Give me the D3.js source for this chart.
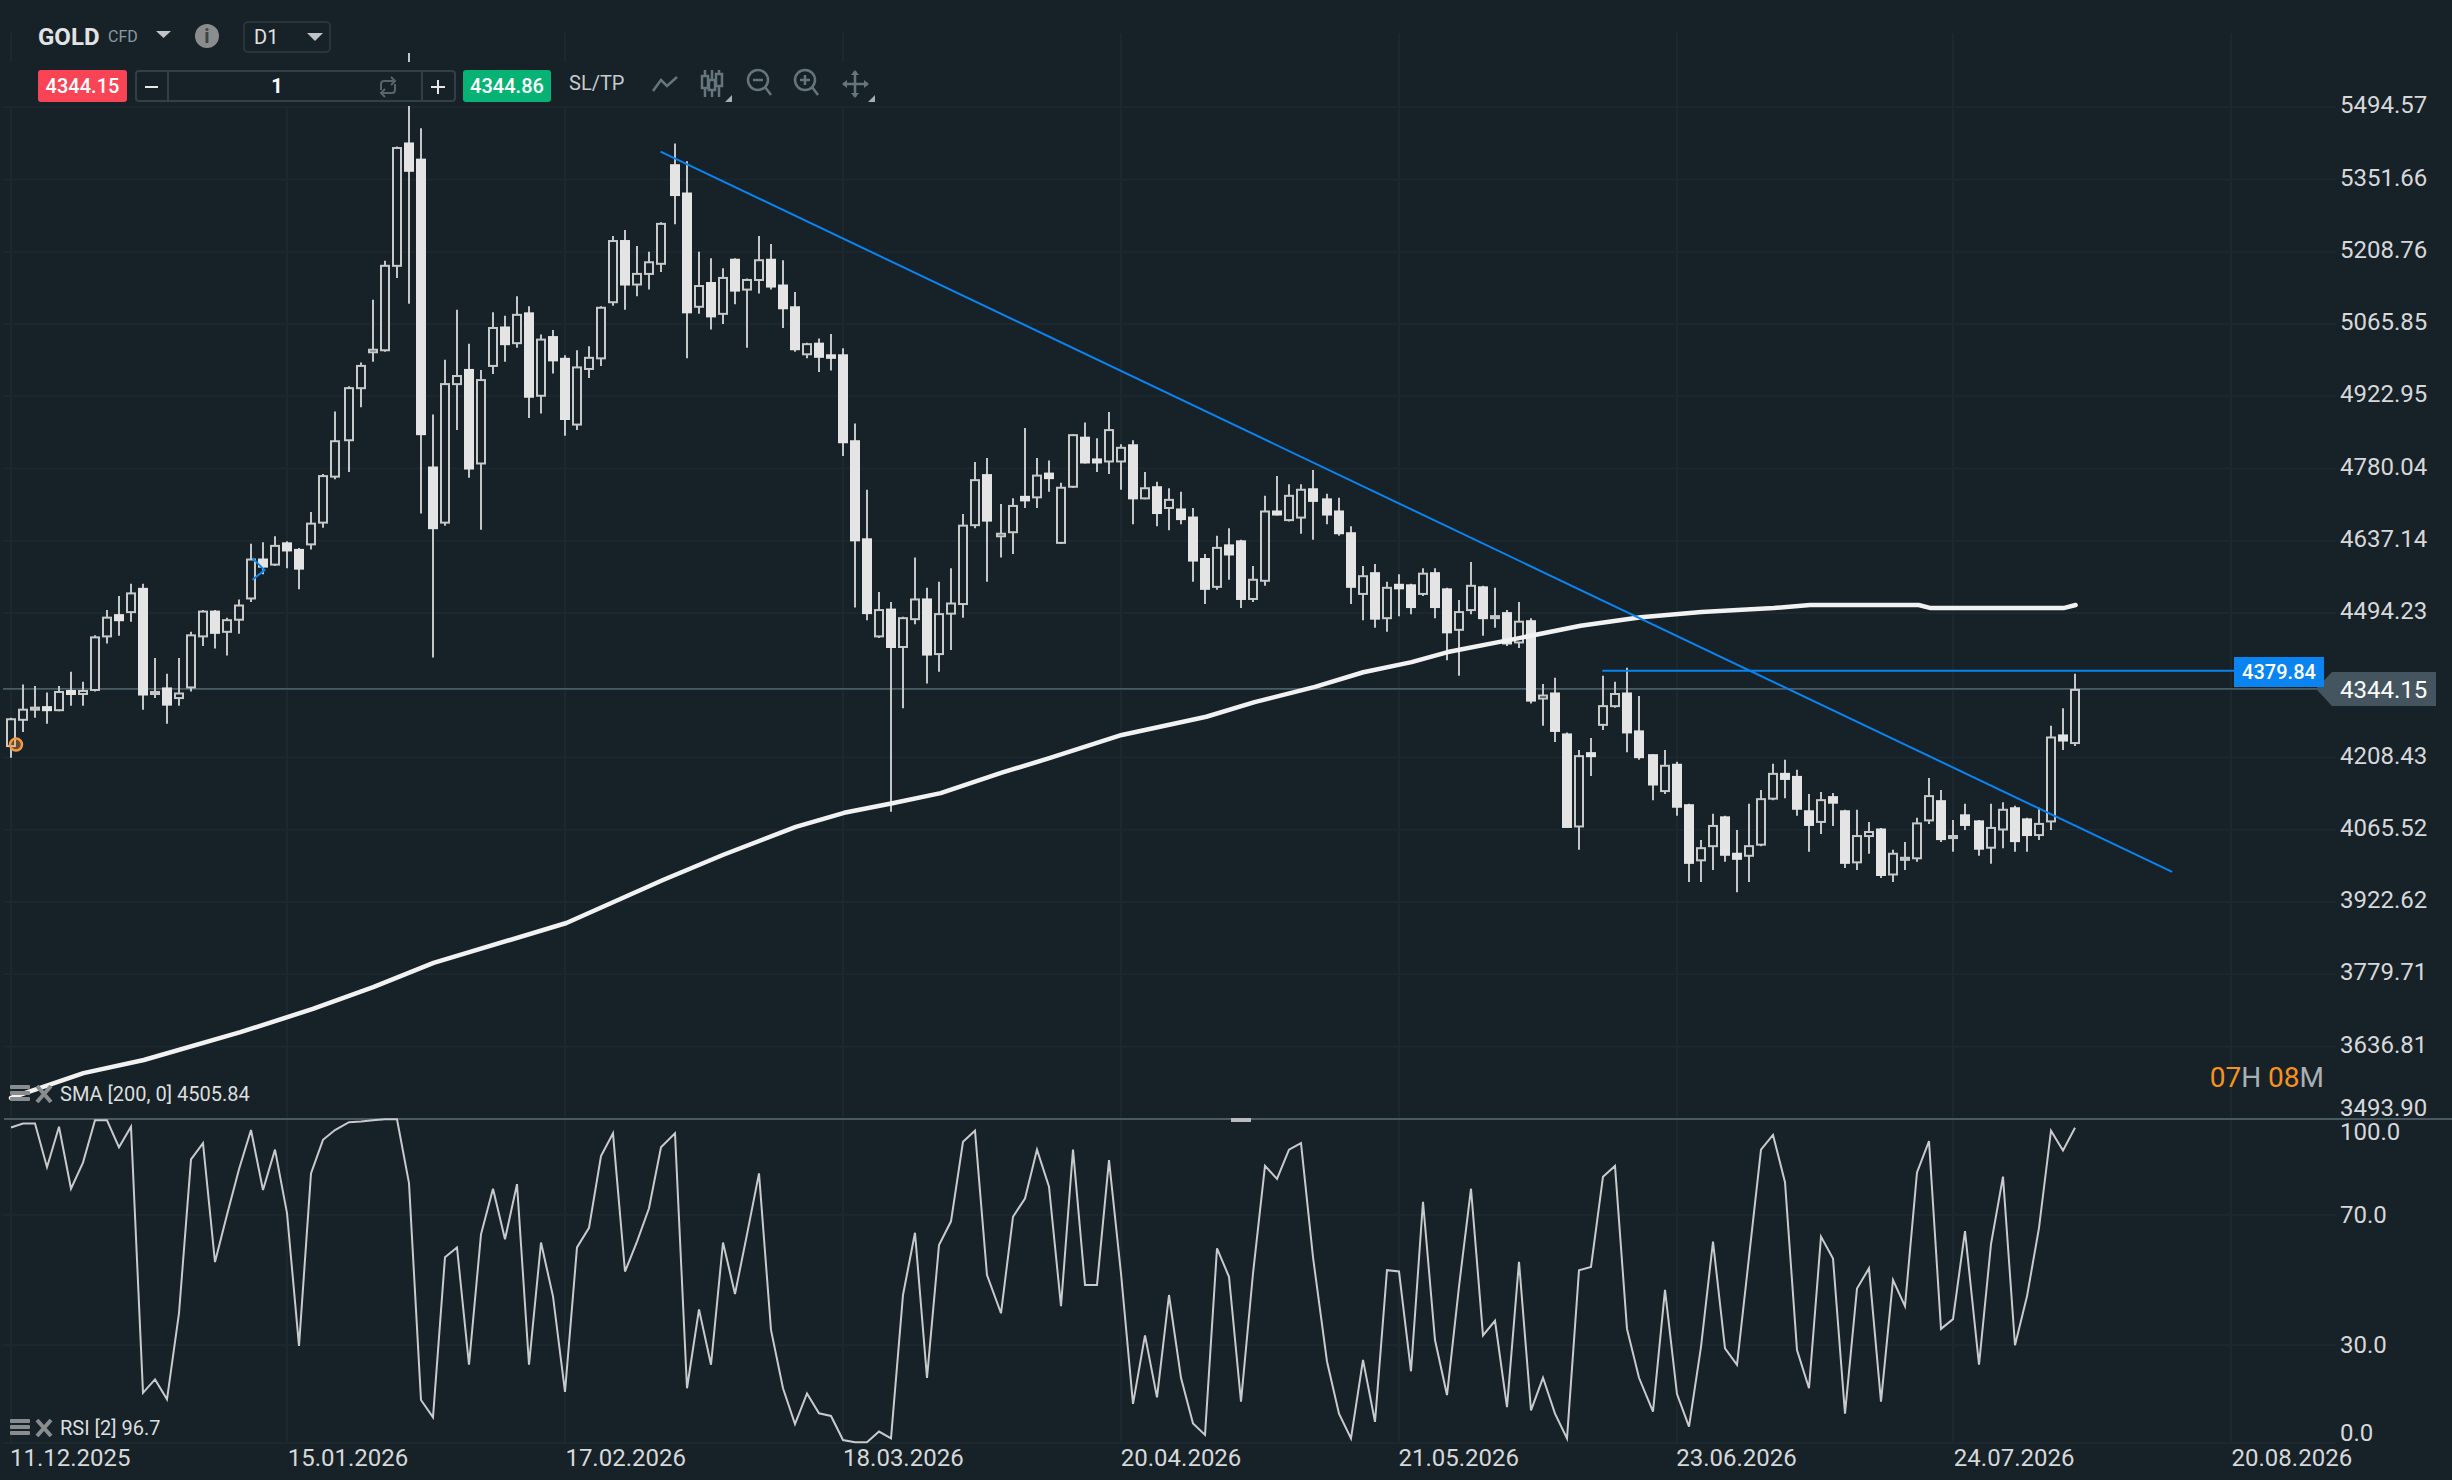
<!DOCTYPE html>
<html>
<head>
<meta charset="utf-8">
<title>GOLD D1</title>
<script src="https://cdn.jsdelivr.net/npm/d3@7"></script>
<style>
  html, body { margin: 0; padding: 0; background: #172128; }
  text { font-family: Roboto, sans-serif; }
</style>
</head>
<body>
<div id="container"></div>
<script>
// daily candles
var opens = [
  4229,4281,4301,4310,4300,4342,4332,4340,4446,4492,4494,4544,4332,4347,4324,4345,4446,4499,4455,4479,4521,4602,4588,4634,4621,4628,4671,4762,4834,4937,5008,5012,5179,5425,5393,4784,4671,4945,4977,4788,4981,5061,5026,
  5089,4922,5042,4999,4865,4975,4996,5107,5232,5142,5163,5183,5382,5326,5098,5149,5084,5195,5132,5151,5195,5144,5101,5004,5029,5006,5006,4836,4642,4446,4503,4425,4480,4523,4411,4491,4510,4666,4769,4644,4652,4726,4721,
  4772,4631,4742,4843,4800,4792,4792,4828,4719,4745,4700,4701,4685,4603,4544,4630,4638,4520,4556,4697,4676,4681,4741,4721,4697,4654,4530,4575,4482,4552,4551,4530,4575,4543,4459,4498,4547,4482,4496,4434,4480,4323,4337,
  4256,4070,4219,4271,4308,4337,4262,4215,4140,4196,4116,4003,4031,4092,4020,4012,4034,4125,4178,4172,4104,4079,4132,4104,3999,4051,4068,3975,4004,4007,4082,4124,4047,4096,4084,4028,4064,4110,4088,4053,4080,4254,4235
];
var highs = [
  4287,4353,4350,4337,4350,4378,4358,4450,4500,4528,4552,4552,4405,4374,4405,4457,4500,4500,4485,4521,4631,4634,4646,4636,4623,4694,4769,4893,4943,4990,5114,5191,5417,5602,5453,4887,4995,5094,5027,4975,5089,5082,5121,
  5101,5045,5054,5004,5014,5022,5101,5240,5252,5220,5209,5267,5423,5388,5209,5196,5176,5196,5156,5240,5224,5192,5129,5029,5037,5046,5018,4869,4738,4536,4516,4487,4604,4544,4556,4583,4690,4793,4801,4710,4721,4860,4801,
  4796,4752,4848,4871,4840,4892,4828,4836,4773,4754,4741,4734,4702,4611,4647,4662,4639,4587,4726,4765,4749,4749,4777,4730,4722,4666,4587,4591,4556,4571,4552,4583,4583,4544,4520,4595,4548,4544,4500,4516,4484,4354,4366,
  4258,4223,4247,4370,4358,4386,4330,4215,4223,4200,4117,4045,4097,4093,4065,4117,4144,4196,4204,4184,4136,4140,4138,4105,4105,4081,4069,4026,4041,4089,4168,4144,4085,4117,4085,4117,4120,4113,4089,4109,4271,4306,4374
];
var lows = [
  4208,4259,4287,4275,4300,4311,4311,4339,4434,4449,4477,4303,4326,4275,4311,4339,4429,4424,4410,4453,4516,4571,4587,4583,4541,4620,4663,4759,4773,4901,4991,5011,5157,5106,4691,4406,4667,4856,4762,4659,4967,4991,5019,
  4880,4889,4968,4845,4856,4959,4983,5102,5094,5121,5134,5169,5263,4998,5086,5055,5066,5105,5019,5126,5134,5058,5011,4998,4971,4974,4805,4505,4480,4445,4101,4306,4472,4355,4378,4421,4485,4662,4556,4604,4611,4702,4702,
  4734,4631,4742,4790,4773,4769,4738,4670,4719,4666,4658,4670,4556,4512,4540,4560,4504,4516,4548,4687,4675,4651,4639,4670,4647,4512,4480,4465,4457,4488,4492,4528,4484,4401,4370,4492,4449,4465,4429,4425,4315,4271,4239,
  4069,4026,4172,4263,4307,4219,4204,4124,4136,4093,3962,3962,3986,4002,3942,3962,4033,4124,4128,4093,4022,4057,4073,3990,3986,4018,3970,3962,3986,4002,4077,4041,4022,4065,4014,3998,4029,4022,4022,4045,4065,4223,4231
];
var closes = [
  4286,4305,4309,4300,4340,4332,4342,4448,4487,4478,4535,4331,4340,4311,4337,4452,4499,4453,4482,4511,4602,4584,4629,4616,4580,4673,4767,4836,4941,4985,5017,5183,5416,5367,4846,4660,4949,4965,4778,4957,5060,5024,5086,
  4920,5037,4992,4876,4982,5001,5100,5232,5142,5167,5190,5266,5319,5087,5143,5079,5159,5130,5155,5194,5138,5095,5014,5028,4999,4997,4830,4636,4492,4502,4425,4486,4523,4410,4494,4515,4669,4759,4675,4653,4708,4715,4768,
  4759,4744,4848,4790,4790,4858,4823,4719,4743,4690,4720,4678,4596,4540,4625,4608,4520,4562,4697,4687,4728,4740,4714,4687,4650,4544,4569,4481,4546,4541,4504,4574,4504,4454,4498,4550,4482,4490,4432,4479,4319,4333,4259,
  4069,4213,4209,4312,4336,4256,4207,4153,4194,4109,3998,4031,4075,4014,4006,4035,4128,4178,4164,4105,4073,4126,4117,3998,4055,4063,3974,4020,4012,4080,4134,4045,4055,4073,4026,4071,4107,4041,4053,4079,4250,4240,4344.15
];

// SMA 200, read at the bends of the line
var smaBars = [0,6,11,19,25,30,35,46,54,59,65,69,73,77,82,86,92,99,103,108,112,116,119,125,130,135,140,146,149,158,159,170,171];
var smaValues = [3535,3584,3610,3665,3711,3754,3802,3881,3966,4016,4071,4099,4118,4138,4178,4207,4253,4289,4318,4348,4377,4397,4417,4445,4469,4486,4496,4504,4510,4510,4504,4504,4510];

var rsiValues = [
  96.8,98,98,84.6,97,78,86,99,99,90.7,97,15.4,19.5,13.4,39.8,87,92,55.5,70,84,96,77.6,90,70.5,29.8,82.7,93,96,98.4,98.6,99,99.3,99.3,79.7,13.2,7.9,57,60,24,64,78,62.5,79.4,24,61.5,45,15.7,60,66,88,95,52.6,61.8,72,90.7,95,16.8,41,24,61.5,45.7,64,82.7,34.7,16.8,5.8,15.2,9.1,8.3,0.9,0.2,0.2,3.5,1.4,45.4,64.5,20,60.7,68,92.4,95.8,51.5,39.8,
  69.4,75,90,78.6,42,90,48.5,48.5,86.8,52,12,33,14,45.4,20,6,2.5,59.7,51,12.7,52,85,81,90,92,57,25,9,1.4,25.5,6.5,53,52.6,22,74,31.6,14.7,48,78,33,37.5,11,55.6,10,20,9,1.4,53,54,81.7,85,35,20,9.6,47,15,5,29.5,61.8,29,24,57,90,94.5,80,28.5,16.8,63.3,56.6,9,47.4,53.6,12.7,50,42,83,92.6,35,38,65,24,61,81.7,30,45,66,95.8,89.7,96.7
];

var priceTicks = [5494.57,5351.66,5208.76,5065.85,4922.95,4780.04,4637.14,4494.23,4208.43,4065.52,3922.62,3779.71,3636.81,3493.90];
var rsiTicks = [100,70,30,0];
var dateBars = [0,23,46,69,92,115,138,161,184];
var dateLabels = ["11.12.2025","15.01.2026","17.02.2026","18.03.2026","20.04.2026","21.05.2026","23.06.2026","24.07.2026","20.08.2026"];

// [bar, price] ends of the drawn lines
var trendLine = [[53.8,5407],[179,3982]];
var resistanceLine = [[131.8,4379.84],[184.2,4379.84]];
var arrowMark = [[20,4603],[21,4579],[20,4560]];

var lastPrice = 4344.15;
var bidPrice = "4344.15";
var askPrice = "4344.86";
var resistanceLabel = "4379.84";

class Chart{

    constructor(opts)
    {
        this.element = opts.element;
        this.width = 2452;
        this.height = 1480;

        this.bg = "#172128";
        this.gridColor = "#1c272e";
        this.blue = "#0a84f0";
        this.labelColor = "#d6d8d9";
        this.iconColor = "#66747c";

        this.svg = d3.select(this.element)
                    .append("svg")
                    .attr("width",this.width)
                    .attr("height",this.height)
                    .style("display","block");

        this.x = d3.scaleLinear().domain([0,171]).range([11,2075.6]);
        this.y = d3.scaleLinear().domain([5494.57,3493.90]).range([107.3,1118.7]);
        this.yRsi = d3.scaleLinear().domain([0,100]).range([1443,1117]);

        this.drawGrid();
        this.drawSma();
        this.drawCandles();
        this.drawLines();
        this.drawRsi();
        this.drawAxes();
        this.drawPriceTags();
        this.drawLegends();
        this.drawToolbar();
    }

    //the platform snaps its bars to whole 2px steps
    snap(i){
        return 2*Math.floor((this.x(i)-11)/2+0.0001)+11;
    }

    drawGrid(){
        var self = this;
        var g = this.svg.append("g").attr("stroke",this.gridColor).attr("stroke-width",2);

        g.selectAll(".v").data(dateBars).enter().append("line")
            .attr("x1",d=>self.snap(d)).attr("x2",d=>self.snap(d))
            .attr("y1",33).attr("y2",1443);

        g.selectAll(".h").data(priceTicks).enter().append("line")
            .attr("x1",3).attr("x2",2336)
            .attr("y1",d=>self.y(d)).attr("y2",d=>self.y(d));

        g.selectAll(".r").data(rsiTicks.slice(1)).enter().append("line")
            .attr("x1",3).attr("x2",2336)
            .attr("y1",d=>self.yRsi(d)).attr("y2",d=>self.yRsi(d));
    }

    drawSma(){
        var self = this;
        var line = d3.line()
            .x((d,i)=>self.x(smaBars[i]))
            .y(d=>self.y(d));
        this.smaPath = line(smaValues);
    }

    drawCandles(){
        var self = this;
        var bars = d3.range(closes.length);
        var g = this.svg.append("g");

        //current price line sits under the candles
        g.append("line")
            .attr("x1",3).attr("x2",2320)
            .attr("y1",this.y(lastPrice)).attr("y2",this.y(lastPrice))
            .attr("stroke","#4a5c66").attr("stroke-width",1.6);

        g.selectAll(".wick").data(bars).enter().append("line")
            .attr("x1",d=>self.snap(d)).attr("x2",d=>self.snap(d))
            .attr("y1",d=>self.y(highs[d])).attr("y2",d=>self.y(lows[d]))
            .attr("stroke","#c4c6c7").attr("stroke-width",2);

        g.selectAll(".body").data(bars).enter().append("rect")
            .attr("x",d=>self.snap(d)-4)
            .attr("width",8)
            .attr("y",d=>self.y(Math.max(opens[d],closes[d]))+1)
            .attr("height",d=>Math.max(1,Math.abs(self.y(opens[d])-self.y(closes[d]))-2))
            .attr("fill",d=>closes[d]>=opens[d] ? this.bg : "#e4e4e4")
            .attr("stroke",d=>closes[d]>=opens[d] ? "#c8caca" : "#e4e4e4")
            .attr("stroke-width",2);

        //SMA goes over the candles
        g.append("path")
            .attr("d",this.smaPath)
            .attr("fill","none")
            .attr("stroke","#f2f2f2")
            .attr("stroke-width",4.5)
            .attr("stroke-linejoin","round")
            .attr("stroke-linecap","round");

        //first bar marker
        g.append("circle")
            .attr("cx",this.x(0)+5).attr("cy",this.y(4234))
            .attr("r",6)
            .attr("fill","#f59a3e").attr("fill-opacity",0.35)
            .attr("stroke","#f59a3e").attr("stroke-width",2.5);
    }

    drawLines(){
        var self = this;
        var line = d3.line().x(d=>self.x(d[0])).y(d=>self.y(d[1]));
        [trendLine,resistanceLine,arrowMark].forEach(function(pts){
            self.svg.append("path")
                .attr("d",line(pts))
                .attr("fill","none")
                .attr("stroke",self.blue)
                .attr("stroke-width",2);
        });
    }

    drawRsi(){
        var self = this;
        this.svg.append("rect")
            .attr("x",4).attr("y",1118).attr("width",this.width-4).attr("height",2)
            .attr("fill","#4a5a63");
        this.svg.append("rect")
            .attr("x",1231).attr("y",1118).attr("width",20).attr("height",4)
            .attr("fill","#b8bcbe");

        var line = d3.line()
            .x((d,i)=>self.snap(i))
            .y(d=>self.yRsi(d));
        this.svg.append("path")
            .attr("d",line(rsiValues))
            .attr("fill","none")
            .attr("stroke","#c8cacb")
            .attr("stroke-width",2);
    }

    drawAxes(){
        var self = this;

        var priceAxis = d3.axisRight(this.y)
            .tickValues(priceTicks)
            .tickSize(0).tickPadding(0)
            .tickFormat(d3.format(".2f"));
        var pg = this.svg.append("g").attr("transform","translate(2340,0)").call(priceAxis);
        pg.select(".domain").remove();
        pg.selectAll("text")
            .attr("y",d=>d===3493.90 ? -11 : -2)
            .attr("fill",this.labelColor).style("font-size","24px").style("font-family","Roboto");

        var rsiAxis = d3.axisRight(this.yRsi)
            .tickValues(rsiTicks)
            .tickSize(0).tickPadding(0)
            .tickFormat(d3.format(".1f"));
        var rg = this.svg.append("g").attr("transform","translate(2340,0)").call(rsiAxis);
        rg.select(".domain").remove();
        rg.selectAll("text")
            .attr("y",d=>d===100 ? 15 : (d===0 ? -10 : 0))
            .attr("fill",this.labelColor).style("font-size","24px").style("font-family","Roboto");

        var dateAxis = d3.axisBottom(this.x)
            .tickValues(dateBars)
            .tickSize(0).tickPadding(0)
            .offset(0)
            .tickFormat((d,i)=>dateLabels[i]);
        var dg = this.svg.append("g").attr("transform","translate(-1,1449)").call(dateAxis);
        dg.select(".domain").remove();
        dg.selectAll("text")
            .attr("text-anchor","start")
            .attr("fill",this.labelColor).style("font-size","24px").style("font-family","Roboto");
    }

    drawPriceTags(){
        var yLast = this.y(lastPrice);

        this.svg.append("path")
            .attr("d","M2316,"+yLast+"L2332,672H2436V706H2332Z")
            .attr("fill","#44555f");
        this.svg.append("text")
            .attr("x",2340).attr("y",yLast+0.5).attr("dy",".35em")
            .attr("fill","#ffffff").style("font-size","24px")
            .text(d3.format(".2f")(lastPrice));

        this.svg.append("rect")
            .attr("x",2234).attr("y",657).attr("width",90).attr("height",30)
            .attr("fill",this.blue);
        this.svg.append("text")
            .attr("x",2279).attr("y",672).attr("dy",".35em")
            .attr("text-anchor","middle")
            .attr("fill","#ffffff").style("font-size","20px").style("font-weight",500)
            .text(resistanceLabel);

        //countdown
        var t = this.svg.append("text")
            .attr("x",2324).attr("y",1087).attr("text-anchor","end")
            .style("font-size","28px");
        t.append("tspan").attr("fill","#f7931a").text("07");
        t.append("tspan").attr("fill","#a9b0b3").text("H ");
        t.append("tspan").attr("fill","#f7931a").text("08");
        t.append("tspan").attr("fill","#a9b0b3").text("M");
    }

    drawLegends(){
        var self = this;
        [{y:1094,label:"SMA [200, 0] 4505.84"},{y:1428,label:"RSI [2] 96.7"}].forEach(function(l){
            var g = self.svg.append("g");
            [-9,-3,3].forEach(function(dy){
                g.append("rect")
                    .attr("x",10).attr("y",l.y+dy).attr("width",20).attr("height",4).attr("rx",1)
                    .attr("fill","#8a8d8f");
            });
            g.append("path")
                .attr("d","M37,"+(l.y-8)+"L51,"+(l.y+8)+"M51,"+(l.y-8)+"L37,"+(l.y+8))
                .attr("stroke","#8a8d8f").attr("stroke-width",4);
            g.append("text")
                .attr("x",60).attr("y",l.y).attr("dy",".35em")
                .attr("fill","#dcdedf").style("font-size","20px")
                .text(l.label);
        });
    }

    drawToolbar(){
        var svg = this.svg;

        //the toolbar covers whatever the chart draws behind it
        svg.append("rect").attr("x",0).attr("y",62).attr("width",900).attr("height",44).attr("fill",this.bg);
        svg.append("rect").attr("x",20).attr("y",20).attr("width",330).attr("height",42).attr("fill",this.bg);

        svg.append("text").attr("x",38).attr("y",45)
            .attr("fill","#e2e3e3").style("font-size","24px").style("font-weight",700).text("GOLD");
        svg.append("text").attr("x",108).attr("y",42)
            .attr("fill","#8a9aa3").style("font-size","16px").text("CFD");
        svg.append("path").attr("d","M156,31H171L163.5,38Z").attr("fill","#c0c4c6");

        svg.append("circle").attr("cx",207).attr("cy",36).attr("r",12).attr("fill","#8b8c8d");
        svg.append("text").attr("x",207).attr("y",43).attr("text-anchor","middle")
            .attr("fill","#3f4446").style("font-size","20px").style("font-weight",700).text("i");

        svg.append("rect").attr("x",244).attr("y",22).attr("width",86).attr("height",30).attr("rx",4)
            .attr("fill",this.bg).attr("stroke","#29343b").attr("stroke-width",2);
        svg.append("text").attr("x",254).attr("y",44)
            .attr("fill","#e0e1e1").style("font-size","20px").text("D1");
        svg.append("path").attr("d","M307,33H323L315,41Z").attr("fill","#c0c4c6");

        //bid, size box, ask
        svg.append("rect").attr("x",38).attr("y",70).attr("width",89).attr("height",32).attr("rx",3).attr("fill","#f84455");
        svg.append("text").attr("x",82.5).attr("y",86).attr("dy",".35em").attr("text-anchor","middle")
            .attr("fill","#ffffff").style("font-size","20px").style("font-weight",500).text(bidPrice);

        svg.append("rect").attr("x",136).attr("y",71).attr("width",319).attr("height",30).attr("rx",3)
            .attr("fill",this.bg).attr("stroke","#333f46").attr("stroke-width",2);
        svg.append("path").attr("d","M168,71V101M422,71V101").attr("stroke","#333f46").attr("stroke-width",2);
        svg.append("path").attr("d","M145,87H158M431,87H445M438,80V94").attr("stroke","#e6e7e7").attr("stroke-width",2);
        svg.append("text").attr("x",277).attr("y",93).attr("text-anchor","middle")
            .attr("fill","#ffffff").style("font-size","20px").style("font-weight",700).text("1");
        svg.append("path")
            .attr("d","M381,90V84Q381,81 384,81H395M391,77L395,81L391,85M395,84V90Q395,93 392,93H381M385,89L381,93L385,97")
            .attr("fill","none").attr("stroke","#596469").attr("stroke-width",2);

        svg.append("rect").attr("x",463).attr("y",70).attr("width",88).attr("height",32).attr("rx",3).attr("fill","#07b374");
        svg.append("text").attr("x",507).attr("y",86).attr("dy",".35em").attr("text-anchor","middle")
            .attr("fill","#ffffff").style("font-size","20px").style("font-weight",500).text(askPrice);

        svg.append("text").attr("x",569).attr("y",83).attr("dy",".35em")
            .attr("fill","#c8cacb").style("font-size","20px").text("SL/TP");

        //tool icons
        var icon = svg.append("g").attr("fill","none").attr("stroke",this.iconColor).attr("stroke-width",2.5);
        icon.append("path").attr("d","M653,91L661,80L667,86L677,77");
        icon.append("path").attr("d","M705,70V97M712,70V97M719,70V97");
        icon.append("path").attr("d","M702,76h6v12h-6zM709,80h6v10h-6zM716,74h6v12h-6z").attr("fill",this.bg);
        [758,805].forEach(function(cx){
            icon.append("circle").attr("cx",cx).attr("cy",80).attr("r",10);
            icon.append("path").attr("d","M"+(cx+7)+",87L"+(cx+13)+",95");
            icon.append("path").attr("d","M"+(cx-5)+",80H"+(cx+5));
        });
        icon.append("path").attr("d","M805,75V85");
        icon.append("path").attr("d","M855,71V97M843,84H868");
        svg.append("path").attr("d","M851,75L855,70L859,75ZM851,93L855,98L859,93ZM847,80L842,84L847,88ZM864,80L869,84L864,88Z").attr("fill",this.iconColor);
        svg.append("path").attr("d","M732,95V102H725ZM875,95V102H868Z").attr("fill","#a8adb0");
    }
}

new Chart({element: document.querySelector("#container")});
</script>
</body>
</html>
